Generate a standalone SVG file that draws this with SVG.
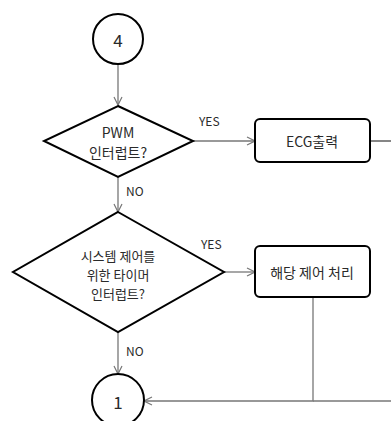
<svg xmlns="http://www.w3.org/2000/svg" width="391" height="421" viewBox="0 0 391 421">
<defs>
<style>
.shape{fill:#fff;stroke:#000;stroke-width:2}
.conn{fill:none;stroke:#777;stroke-width:1.3}
.t{font-family:"Noto Sans CJK KR","Noto Sans",sans-serif;font-size:14px;fill:#2a2a2a;text-anchor:middle;dominant-baseline:central}
.t2{font-size:13px}
.lbl{font-family:"Noto Sans CJK KR","Noto Sans",sans-serif;font-size:12px;fill:#2a2a2a;dominant-baseline:central}
</style>
<marker id="arr" markerWidth="10" markerHeight="10" refX="9" refY="5" orient="auto" markerUnits="userSpaceOnUse">
<path d="M1,1 L9,5 L1,9" fill="none" stroke="#777" stroke-width="1.2"/>
</marker>
</defs>
<rect width="391" height="421" fill="#fff"/>
<g id="connectors">
<line class="conn" x1="118" y1="64" x2="118" y2="105" marker-end="url(#arr)"/>
<line class="conn" x1="193" y1="141" x2="255" y2="141" marker-end="url(#arr)"/>
<line class="conn" x1="370" y1="141" x2="391" y2="141" style="stroke:#444"/>
<line class="conn" x1="118" y1="177" x2="118" y2="212" marker-end="url(#arr)"/>
<line class="conn" x1="224" y1="272" x2="255" y2="272" marker-end="url(#arr)"/>
<line class="conn" x1="118" y1="332" x2="118" y2="374" marker-end="url(#arr)"/>
<polyline class="conn" points="313,297 313,401 144,401" marker-end="url(#arr)"/>
<line class="conn" x1="313" y1="401" x2="391" y2="401"/>
<text class="lbl" x="199" y="120">YES</text>
<text class="lbl" x="126" y="190">NO</text>
<text class="lbl" x="201" y="243">YES</text>
<text class="lbl" x="126" y="350">NO</text>
</g>
<g id="c4">
<circle class="shape" cx="118" cy="39" r="25"/>
<text class="t" x="118" y="39" style="font-size:17px">4</text>
</g>
<g id="d1">
<polygon class="shape" points="118,106 193,141 118,177 44,141"/>
<text class="t" x="118" y="132">PWM</text>
<text class="t" x="118" y="152">인터럽트?</text>
</g>
<g id="b1">
<rect class="shape" x="255" y="119" width="115" height="43" rx="5"/>
<text class="t" x="312" y="141">ECG출력</text>
</g>
<g id="d2">
<polygon class="shape" points="118,212 224,272 118,332 13,272"/>
<text class="t t2" x="118" y="255">시스템 제어를</text>
<text class="t t2" x="118" y="274">위한 타이머</text>
<text class="t t2" x="118" y="293">인터럽트?</text>
</g>
<g id="b2">
<rect class="shape" x="255" y="246" width="115" height="51" rx="5"/>
<text class="t" x="312" y="272">해당 제어 처리</text>
</g>
<g id="c1">
<circle class="shape" cx="118" cy="400" r="26"/>
<text class="t" x="118" y="401" style="font-size:17px">1</text>
</g>
</svg>
